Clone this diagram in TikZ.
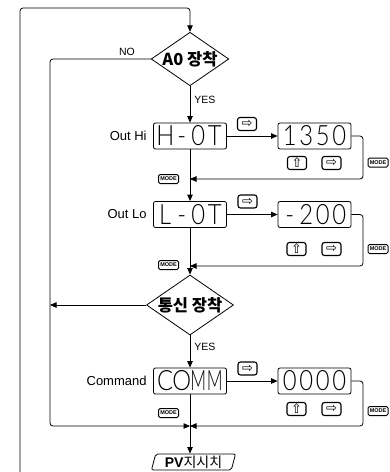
\documentclass[tikz,border=0pt]{standalone}
\usepackage{fontspec}
\usepackage{graphicx}
\setmainfont{Liberation Sans}
\newfontfamily\kr{Noto Sans CJK KR}
\newfontfamily\sym{DejaVu Sans}
\newfontfamily\segf{Lato}[UprightFont=* Light]
\usetikzlibrary{arrows.meta,shapes.geometric,positioning}
% one cell of the display
\newcommand{\dch}[2][0.85]{\makebox[16.5pt]{\scalebox{#1}[1]{#2}}}

\begin{document}
\begin{tikzpicture}[x=1pt,y=-1pt,line width=0.8pt,
  >={Triangle[length=6.5pt,width=5.5pt]},
  disp/.style={draw,rounded corners=2pt,minimum width=73pt,minimum height=26pt,inner sep=0pt,font=\segf\fontsize{28}{28}\selectfont},
  btn/.style={draw,line width=1.1pt,rounded corners=2.5pt,minimum width=19pt,minimum height=13pt,inner sep=0pt,font=\sym\fontsize{13}{13}\selectfont},
  modekey/.style={draw,line width=1pt,rounded corners=1.5pt,minimum width=20pt,minimum height=9pt,inner sep=0pt,font=\bfseries\fontsize{5.5}{5.5}\selectfont},
  dec/.style={draw,diamond,aspect=1.45,minimum width=76pt,minimum height=52pt,inner sep=0pt,font=\kr\bfseries\fontsize{16.5}{16.5}\selectfont},
  lbl/.style={anchor=east,inner sep=0pt,font=\fontsize{13}{13}\selectfont},
  tag/.style={inner sep=0pt,font=\fontsize{10.5}{10.5}\selectfont}]
  \useasboundingbox (0,0) rectangle (389,472);

  % decisions and displays on the main column
  \node[dec] (ao) at (190,59) {A0 장착};
  \node[disp] (hot) at (190,136) {\dch{H}\dch{-}\dch{0}\dch{T}};
  \node[disp] (lot) at (190,214.5) {\dch{L}\dch{-}\dch{0}\dch{T}};
  \node[dec] (com) at (190,305) {통신 장착};
  \node[disp] (cmd) at (190,381) {\dch{C}\dch{O}\dch[0.62]{M}\dch[0.62]{M}};
  \node[draw,trapezium,trapezium left angle=75,trapezium right angle=105,rounded corners=2pt,
    inner xsep=6pt,inner ysep=1pt,minimum height=16pt,font=\fontsize{14}{14}\selectfont]
    (pv) at (193.5,462) {\textbf{PV}{\kr 지시치}};

  % set values
  \node[disp] (hiv) at (314.5,136) {\dch{1}\dch{3}\dch{5}\dch{0}};
  \node[disp] (lov) at (314.5,214.5) {\dch{-}\dch{2}\dch{0}\dch{0}};
  \node[disp] (cmv) at (314.5,381) {\dch{0}\dch{0}\dch{0}\dch{0}};

  % labels
  \node[lbl] (hilbl) at (147,136) {Out Hi};
  \node[lbl] (lolbl) at (147,214.5) {Out Lo};
  \node[lbl] (cmlbl) at (147,381) {Command};
  \node[tag] (no) at (127,52) {NO};
  \node[tag,anchor=west] (yes1) at (194,100) {YES};
  \node[tag,anchor=west] (yes2) at (194,347) {YES};

  % keys
  \node[btn] (hinx) at (247,124) {⇨};
  \node[btn] (hiup) at (297,163) {⇧};
  \node[btn] (hirt) at (331.5,163) {⇨};
  \node[modekey] (himr) at (378,162.5) {MODE};
  \node[modekey] (himl) at (168.5,179) {MODE};
  \node[btn] (lonx) at (247.5,201.5) {⇨};
  \node[btn] (loup) at (296.5,249) {⇧};
  \node[btn] (lort) at (331.5,249) {⇨};
  \node[modekey] (lomr) at (378,249) {MODE};
  \node[modekey] (loml) at (168.5,265) {MODE};
  \node[btn] (cmnx) at (247.5,368.5) {⇨};
  \node[btn] (cmup) at (296.5,409) {⇧};
  \node[btn] (cmrt) at (331.5,409) {⇨};
  \node[modekey] (cmmr) at (378,411) {MODE};
  \node[modekey] (cmml) at (168.5,413) {MODE};

  % joints
  \coordinate (bl) at (20,472);
  \coordinate (j1) at (190,179);
  \coordinate (j2) at (190,266);
  \coordinate (j3) at (190,426);
  \coordinate (c2) at (50,305);

  % main flow
  \draw[->,rounded corners=3pt] (bl) -- (20,8) -- (190,8) -- (ao.north);
  \draw[->] (ao) -- (hot);
  \draw[->] (hot) -- (lot);
  \draw[->] (lot) -- (com);
  \draw[->] (com) -- (cmd);
  \draw[->] (cmd.south) -- (cmd.south |- pv.north);
  \draw[->] (hot) -- (hiv);
  \draw[->] (lot) -- (lov);
  \draw[->] (cmd) -- (cmv);
  % returns
  \draw[->,rounded corners=3pt] (hiv.east) -- (363,136) -- (363,179) -- (j1);
  \draw[->,rounded corners=3pt] (lov.east) -- (363,214.5) -- (363,266) -- (j2);
  \draw[->,rounded corners=3pt] (cmv.east) -- (363,381) -- (363,426) -- (j3);
  \draw[->,rounded corners=3pt] (ao.west) -- (50,59) -- (50,426) -- (j3);
  \draw[->] (com) -- (c2);
\end{tikzpicture}
\end{document}
